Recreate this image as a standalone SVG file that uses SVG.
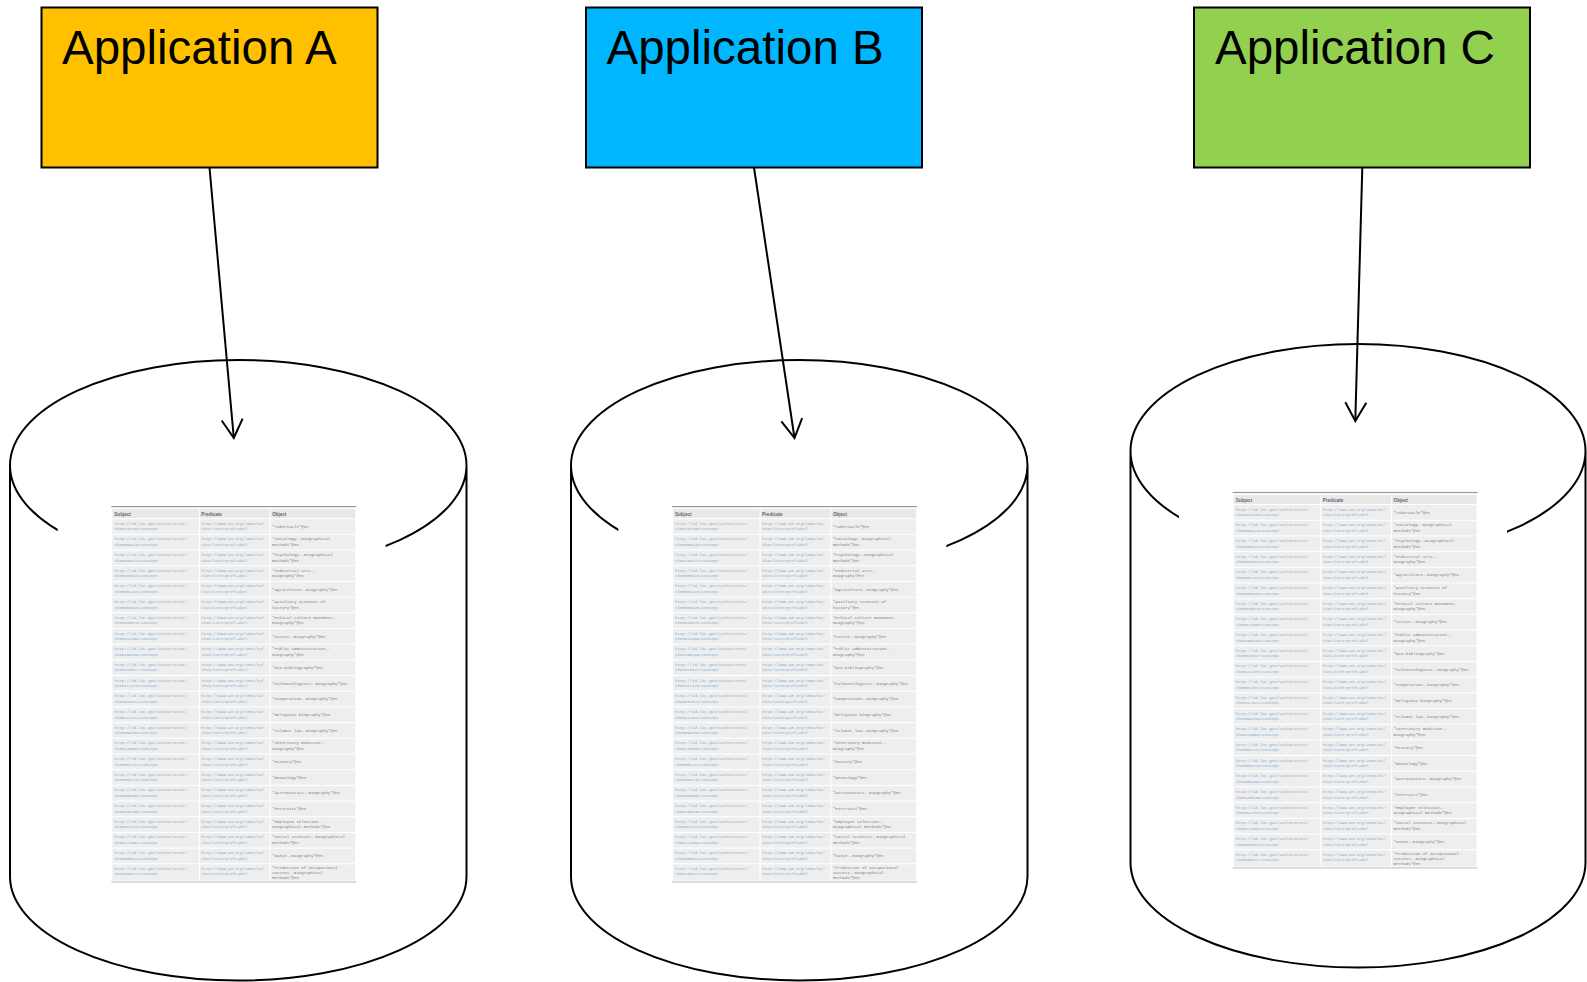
<svg xmlns="http://www.w3.org/2000/svg" xmlns:xlink="http://www.w3.org/1999/xlink" width="1587" height="982" viewBox="0 0 1587 982">
<style>
.box{stroke:#000;stroke-width:2}
.title{font-family:"Liberation Sans",Arial,sans-serif;font-size:47.5px;fill:#000}
.cyl{fill:none;stroke:#000;stroke-width:2}
.conn{stroke:#000;stroke-width:2;fill:none}
.s,.p{font-family:"Liberation Mono","DejaVu Sans Mono",monospace;font-size:4px;fill:#8aaccb}
.o{font-family:"Liberation Mono","DejaVu Sans Mono",monospace;font-size:4px;fill:#808080}
.h{font-family:"Liberation Sans",Arial,sans-serif;font-size:4.5px;font-weight:bold;fill:#666}
.row{fill:#eeeeee}
</style>
<defs>
<marker id="arr" viewBox="-20 -12 22 24" refX="0" refY="0" markerWidth="22" markerHeight="24" markerUnits="userSpaceOnUse" orient="auto">
<path d="M-18.5,-10.5 L0,0 L-18.5,10.5" fill="none" stroke="#000" stroke-width="2"/>
</marker>
<g id="rowbase">
<rect class="row" x="1" y="0" width="240" height="14.5"/>
<text class="s" x="3" y="5.5">http://id.loc.gov/authorities/</text>
<text class="p" x="89" y="5.5">http://www.w3.org/2004/02/</text>
<text class="p" x="89" y="11">skos/core#prefLabel</text>
</g>
<g id="table">
<rect x="-53" y="-30" width="324" height="405" fill="#fff"/>
<rect x="0" y="0" width="242" height="1.2" fill="#999"/>
<rect x="1" y="3" width="240" height="9" fill="#e8e8e8"/>
<text class="h" x="3" y="9.5">Subject</text>
<text class="h" x="89" y="9.5">Predicate</text>
<text class="h" x="159" y="9.5">Object</text>
<g transform="translate(0,13)"><use xlink:href="#rowbase"/><text class="s" x="3" y="11">sh85131833#concept</text><text class="o" x="159" y="8.5">"Tabernacle"@en</text></g>
<g transform="translate(0,28.5)"><use xlink:href="#rowbase"/><text class="s" x="3" y="11">sh85009429#concept</text><text class="o" x="159" y="5.5">"Sociology--Biographical</text><text class="o" x="159" y="11">methods"@en</text></g>
<g transform="translate(0,44)"><use xlink:href="#rowbase"/><text class="s" x="3" y="11">sh85108471#concept</text><text class="o" x="159" y="5.5">"Psychology--Biographical</text><text class="o" x="159" y="11">methods"@en</text></g>
<g transform="translate(0,59.5)"><use xlink:href="#rowbase"/><text class="s" x="3" y="11">sh85065818#concept</text><text class="o" x="159" y="5.5">"Industrial arts--</text><text class="o" x="159" y="11">Biography"@en</text></g>
<g transform="translate(0,75)"><use xlink:href="#rowbase"/><text class="s" x="3" y="11">sh85002418#concept</text><text class="o" x="159" y="8.5">"Agriculture--Biography"@en</text></g>
<g transform="translate(0,90.5)"><use xlink:href="#rowbase"/><text class="s" x="3" y="11">sh85009846#concept</text><text class="o" x="159" y="5.5">"Auxiliary sciences of</text><text class="o" x="159" y="11">history"@en</text></g>
<g transform="translate(0,106)"><use xlink:href="#rowbase"/><text class="s" x="3" y="11">sh85045076#concept</text><text class="o" x="159" y="5.5">"Ethical culture movement--</text><text class="o" x="159" y="11">Biography"@en</text></g>
<g transform="translate(0,121.5)"><use xlink:href="#rowbase"/><text class="s" x="3" y="11">sh85024396#concept</text><text class="o" x="159" y="8.5">"Circus--Biography"@en</text></g>
<g transform="translate(0,137)"><use xlink:href="#rowbase"/><text class="s" x="3" y="11">sh85109269#concept</text><text class="o" x="159" y="5.5">"Public administration--</text><text class="o" x="159" y="11">Biography"@en</text></g>
<g transform="translate(0,152.5)"><use xlink:href="#rowbase"/><text class="s" x="3" y="11">sh85013817#concept</text><text class="o" x="159" y="8.5">"Bio-bibliography"@en</text></g>
<g transform="translate(0,168)"><use xlink:href="#rowbase"/><text class="s" x="3" y="11">sh85112478#concept</text><text class="o" x="159" y="8.5">"Paleontologists--Biography"@en</text></g>
<g transform="translate(0,183.5)"><use xlink:href="#rowbase"/><text class="s" x="3" y="11">sh85032572#concept</text><text class="o" x="159" y="8.5">"Cooperation--Biography"@en</text></g>
<g transform="translate(0,199)"><use xlink:href="#rowbase"/><text class="s" x="3" y="11">sh85112522#concept</text><text class="o" x="159" y="8.5">"Religious biography"@en</text></g>
<g transform="translate(0,214.5)"><use xlink:href="#rowbase"/><text class="s" x="3" y="11">sh85069764#concept</text><text class="o" x="159" y="8.5">"Islamic law--Biography"@en</text></g>
<g transform="translate(0,230)"><use xlink:href="#rowbase"/><text class="s" x="3" y="11">sh85143598#concept</text><text class="o" x="159" y="5.5">"Veterinary medicine--</text><text class="o" x="159" y="11">Biography"@en</text></g>
<g transform="translate(0,245.5)"><use xlink:href="#rowbase"/><text class="s" x="3" y="11">sh85061212#concept</text><text class="o" x="159" y="8.5">"History"@en</text></g>
<g transform="translate(0,261)"><use xlink:href="#rowbase"/><text class="s" x="3" y="11">sh85053726#concept</text><text class="o" x="159" y="8.5">"Genealogy"@en</text></g>
<g transform="translate(0,276.5)"><use xlink:href="#rowbase"/><text class="s" x="3" y="11">sh85009898#concept</text><text class="o" x="159" y="8.5">"Astronautics--Biography"@en</text></g>
<g transform="translate(0,292)"><use xlink:href="#rowbase"/><text class="s" x="3" y="11">sh85105135#concept</text><text class="o" x="159" y="8.5">"Portraits"@en</text></g>
<g transform="translate(0,307.5)"><use xlink:href="#rowbase"/><text class="s" x="3" y="11">sh85042878#concept</text><text class="o" x="159" y="5.5">"Employee selection--</text><text class="o" x="159" y="11">Biographical methods"@en</text></g>
<g transform="translate(0,323)"><use xlink:href="#rowbase"/><text class="s" x="3" y="11">sh85124094#concept</text><text class="o" x="159" y="5.5">"Social sciences--Biographical</text><text class="o" x="159" y="11">methods"@en</text></g>
<g transform="translate(0,338.5)"><use xlink:href="#rowbase"/><text class="s" x="3" y="11">sh85035614#concept</text><text class="o" x="159" y="8.5">"Dance--Biography"@en</text></g>
<g transform="translate(0,354)"><rect class="row" x="1" y="0" width="240" height="16"/><text class="s" x="3" y="5.5">http://id.loc.gov/authorities/</text><text class="s" x="3" y="11">sh85106877#concept</text><text class="p" x="89" y="5.5">http://www.w3.org/2004/02/</text><text class="p" x="89" y="11">skos/core#prefLabel</text><text class="o" x="159" y="4.8">"Prediction of occupational</text><text class="o" x="159" y="9.6">success--Biographical</text><text class="o" x="159" y="14.4">methods"@en</text></g>
<rect x="86.5" y="3" width="1" height="367" fill="#fff"/>
<rect x="156.5" y="3" width="1" height="367" fill="#fff"/>
<rect x="0" y="371" width="242" height="1" fill="#bbb"/>
</g>
</defs>

<g id="db-a">
<path class="cyl" d="M10,465.5 A228.25,105.5 0 0 1 466.5,465.5 A228.25,105.5 0 0 1 10,465.5 M10,465.5 V876.5 A228.25,104 0 0 0 466.5,876.5 V465.5"/>
<use xlink:href="#table" transform="translate(111.3,506) scale(1.0121)"/>
</g>
<g id="db-b">
<path class="cyl" d="M571,465.5 A228.25,105.5 0 0 1 1027.5,465.5 A228.25,105.5 0 0 1 571,465.5 M571,465.5 V876.5 A228.25,104 0 0 0 1027.5,876.5 V465.5"/>
<use xlink:href="#table" transform="translate(672,506) scale(1.0121)"/>
</g>
<g id="db-c">
<path class="cyl" d="M1130.5,451 A227.5,107 0 0 1 1585.5,451 A227.5,107 0 0 1 1130.5,451 M1130.5,451 V862.5 A227.5,105 0 0 0 1585.5,862.5 V451"/>
<use xlink:href="#table" transform="translate(1232.7,491.9) scale(1.0121)"/>
</g>

<g id="app-a">
<rect class="box" x="41.5" y="7.5" width="336" height="160" fill="#FFC000"/>
<text class="title" x="62" y="64">Application A</text>
</g>
<g id="app-b">
<rect class="box" x="586" y="7.5" width="336" height="160" fill="#00B7FF"/>
<text class="title" x="606.5" y="64">Application B</text>
</g>
<g id="app-c">
<rect class="box" x="1194" y="7.5" width="336" height="160" fill="#92D050"/>
<text class="title" x="1215" y="64">Application C</text>
</g>

<g id="connectors">
<line class="conn" x1="209.5" y1="167.5" x2="233.8" y2="438" marker-end="url(#arr)"/>
<line class="conn" x1="754" y1="167.5" x2="794.5" y2="438" marker-end="url(#arr)"/>
<line class="conn" x1="1362.3" y1="167.5" x2="1355.3" y2="421" marker-end="url(#arr)"/>
</g>
</svg>
